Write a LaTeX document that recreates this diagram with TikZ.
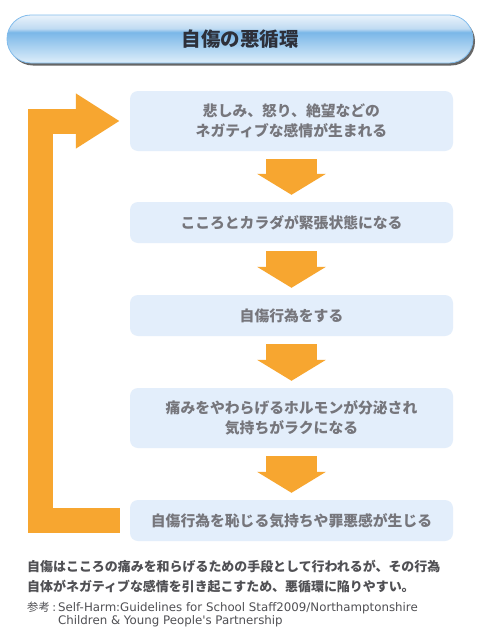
\documentclass[tikz,border=0pt]{standalone}
\usepackage{fontspec}
\setmainfont{Noto Sans CJK JP}
\newfontfamily\latinref{DejaVu Sans}
\usetikzlibrary{calc,arrows.meta,shadows}
\definecolor{arrorange}{RGB}{247,166,48}
\definecolor{boxblue}{RGB}{227,238,251}
\definecolor{boxtext}{RGB}{118,118,124}
\definecolor{bodytext}{RGB}{80,80,84}
\definecolor{titletext}{RGB}{45,48,58}
\definecolor{tbbot}{RGB}{222,238,250}
\definecolor{tbmid}{RGB}{122,183,232}
\definecolor{tbtop2}{RGB}{192,219,242}
\definecolor{tbtop}{RGB}{234,243,251}
\definecolor{tbborder}{RGB}{130,188,236}
\pgfdeclareverticalshading{titlebar}{100bp}{color(0bp)=(tbbot); color(25bp)=(tbbot); color(57bp)=(tbmid); color(61bp)=(tbtop2); color(75bp)=(tbtop); color(100bp)=(tbtop)}
\begin{document}
\begin{tikzpicture}[x=1pt,y=-1pt,
  stepbox/.style={rectangle, rounded corners=8pt, fill=boxblue, minimum width=323pt,
    inner sep=0pt, align=center, text=boxtext,
    font=\fontsize{14.8pt}{20pt}\selectfont\bfseries},
  downarrow/.style={draw=arrorange, line width=51pt,
    -{Triangle[width=68pt,length=21pt,fill=arrorange]}},
  looparrow/.style={draw=arrorange, line width=25pt, line join=miter,
    -{Triangle[width=52pt,length=44pt,fill=arrorange]}},
  bodyline/.style={anchor=base west, inner sep=0pt, text=bodytext,
    font=\fontsize{12.95pt}{15pt}\selectfont\bfseries},
  refline/.style={anchor=base west, inner sep=0pt, text=bodytext,
    font=\fontsize{11.3pt}{12.5pt}\selectfont},
  reflatin/.style={anchor=base west, inner sep=0pt, text=bodytext,
    font=\latinref\fontsize{11.8pt}{12.5pt}\selectfont},
]
\useasboundingbox (0,0) rectangle (480,640);
\fill[white] (0,0) rectangle (480,640);

% title bar
\node[rectangle, rounded corners=23.9pt, minimum width=466pt, minimum height=48pt,
  shading=titlebar, draw=tbborder, line width=0.8pt, inner sep=0pt,
  drop shadow={shadow xshift=2pt, shadow yshift=-2.5pt, fill=black!75, opacity=0.8},
  text=titletext, font=\fontsize{19.5pt}{22pt}\selectfont\bfseries]
  (title) at (240,39) {自傷の悪循環};

% boxes
\node[stepbox, minimum height=60pt] (b1) at (291.5,121)
  {悲しみ、怒り、絶望などの\\ネガティブな感情が生まれる};
\node[stepbox, minimum height=41pt] (b2) at (291.5,222.5)
  {こころとカラダが緊張状態になる};
\node[stepbox, minimum height=41pt] (b3) at (291.5,315.5)
  {自傷行為をする};
\node[stepbox, minimum height=60pt] (b4) at (291.5,418)
  {痛みをやわらげるホルモンが分泌され\\気持ちがラクになる};
\node[stepbox, minimum height=41pt] (b5) at (291.5,520.5)
  {自傷行為を恥じる気持ちや罪悪感が生じる};

% down arrows
\draw[downarrow] ($(b1.south)+(0,8)$) -- ($(b2.north)+(0,-7)$);
\draw[downarrow] ($(b2.south)+(0,8)$) -- ($(b3.north)+(0,-7)$);
\draw[downarrow] ($(b3.south)+(0,8)$) -- ($(b4.north)+(0,-7)$);
\draw[downarrow] ($(b4.south)+(0,8)$) -- ($(b5.north)+(0,-7)$);

% loop arrow
\coordinate (lc) at (40,0);
\draw[looparrow] ($(b5.west)+(-10,0)$) -| (lc |- b1.west) -- ($(b1.west)+(-10,0)$);

% notes
\node[bodyline] (n1) at (27,571.4) {自傷はこころの痛みを和らげるための手段として行われるが、その行為};
\node[bodyline] (n2) at (27,591) {自体がネガティブな感情を引き起こすため、悪循環に陥りやすい。};
\node[refline] (r0) at (27,611.5) {参考 {\latinref :}};
\node[reflatin] (r1) at (58,611.5) {Self-Harm:Guidelines for School Staff2009/Northamptonshire};
\node[reflatin] (r2) at (58,624) {Children \& Young People's Partnership};
\end{tikzpicture}
\end{document}
